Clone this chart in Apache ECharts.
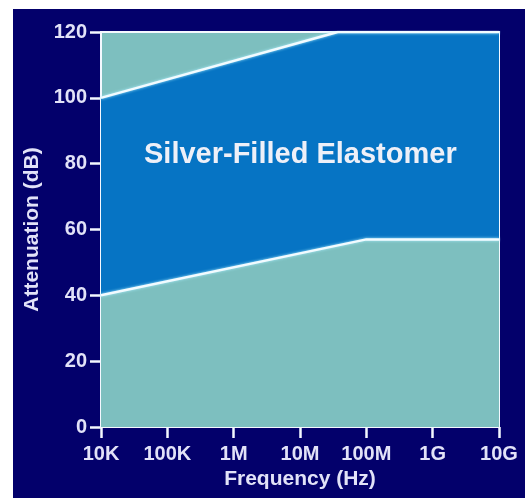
<!DOCTYPE html>
<html>
<head>
<meta charset="utf-8">
<script src="https://cdn.jsdelivr.net/npm/echarts@6/dist/echarts.min.js"></script>
<style>
  html, body { margin: 0; padding: 0; background: #fff; }
  #chart { position: absolute; left: 13px; top: 9px; width: 512px; height: 489px; }
</style>
</head>
<body>
<div id="chart"></div>
<script>
// frequency (Hz) / attenuation (dB) breakpoints
const lowerFreq = [1e4, 1e8, 1e10];
const lowerDb = [40, 57, 57];
const upperFreq = [1e4, 3.7e7, 1e10];
const upperDb = [100, 120, 120];
const yTicks = [0, 20, 40, 60, 80, 100, 120];
const freqLabels = { 1e4: "10K", 1e5: "100K", 1e6: "1M", 1e7: "10M", 1e8: "100M", 1e9: "1G", 1e10: "10G" };

const navy = "#03006b";
const blue = "#0674c4";
const teal = "#7dbfbf";
const textColor = "#e2e2f8";
const lineColor = "#f4f8ff";
const font = "Liberation Sans";

let chart = echarts.init(document.getElementById("chart"));

const pairs = (xs, ys) => xs.map((x, i) => [x, ys[i]]);

chart.setOption({
  backgroundColor: navy,
  animation: false,
  grid: {
    left: 88,
    right: 26,
    top: 23,
    bottom: 71,
    show: true,
    backgroundColor: teal,
    borderColor: lineColor,
    borderWidth: 2,
  },
  xAxis: {
    type: "log",
    logBase: 10,
    min: 1e4,
    max: 1e10,
    name: "Frequency (Hz)",
    nameLocation: "middle",
    nameGap: 41,
    nameTextStyle: { color: textColor, fontSize: 21, fontWeight: "bold", fontFamily: font },
    axisLine: { show: true, lineStyle: { color: lineColor, width: 2 } },
    axisTick: { show: true, inside: false, length: 11, lineStyle: { color: lineColor, width: 2.5 } },
    axisLabel: {
      color: textColor,
      fontSize: 20,
      fontWeight: "bold",
      fontFamily: font,
      margin: 17,
      formatter: (v) => freqLabels[Math.round(v)] || "",
    },
    splitLine: { show: false },
  },
  yAxis: {
    type: "value",
    min: 0,
    max: 120,
    interval: 20,
    name: "Attenuation (dB)",
    nameLocation: "middle",
    nameGap: 58,
    nameTextStyle: { color: textColor, fontSize: 21, fontWeight: "bold", fontFamily: font },
    axisLine: { show: true, lineStyle: { color: lineColor, width: 2 } },
    axisTick: { show: true, inside: false, length: 11, lineStyle: { color: lineColor, width: 2.5 } },
    axisLabel: {
      color: textColor,
      fontSize: 20,
      fontWeight: "bold",
      fontFamily: font,
      margin: 14,
      formatter: (v) => (yTicks.includes(v) ? String(v) : ""),
    },
    splitLine: { show: false },
  },
  series: [
    {
      name: "upper",
      type: "line",
      data: pairs(upperFreq, upperDb),
      symbol: "none",
      lineStyle: { color: "#f2fbff", width: 2.5, shadowColor: "#aef", shadowBlur: 3 },
      areaStyle: { color: blue, opacity: 1 },
      z: 2,
    },
    {
      name: "lower",
      type: "line",
      data: pairs(lowerFreq, lowerDb),
      symbol: "none",
      lineStyle: { color: "#f2fbff", width: 2.5, shadowColor: "#aef", shadowBlur: 3 },
      areaStyle: { color: teal, opacity: 1 },
      z: 3,
    },
  ],
  graphic: [
    {
      type: "text",
      left: 304 - 13 - 160,
      top: 157 - 9 - 17,
      z: 10,
      style: {
        text: "Silver-Filled Elastomer",
        fill: "#eef0f8",
        font: "bold 29px 'Liberation Sans'",
        shadowColor: "rgba(0,0,30,0.9)",
        shadowBlur: 3,
        shadowOffsetX: 2,
        shadowOffsetY: 2,
      },
    },
  ],
});
</script>
</body>
</html>
